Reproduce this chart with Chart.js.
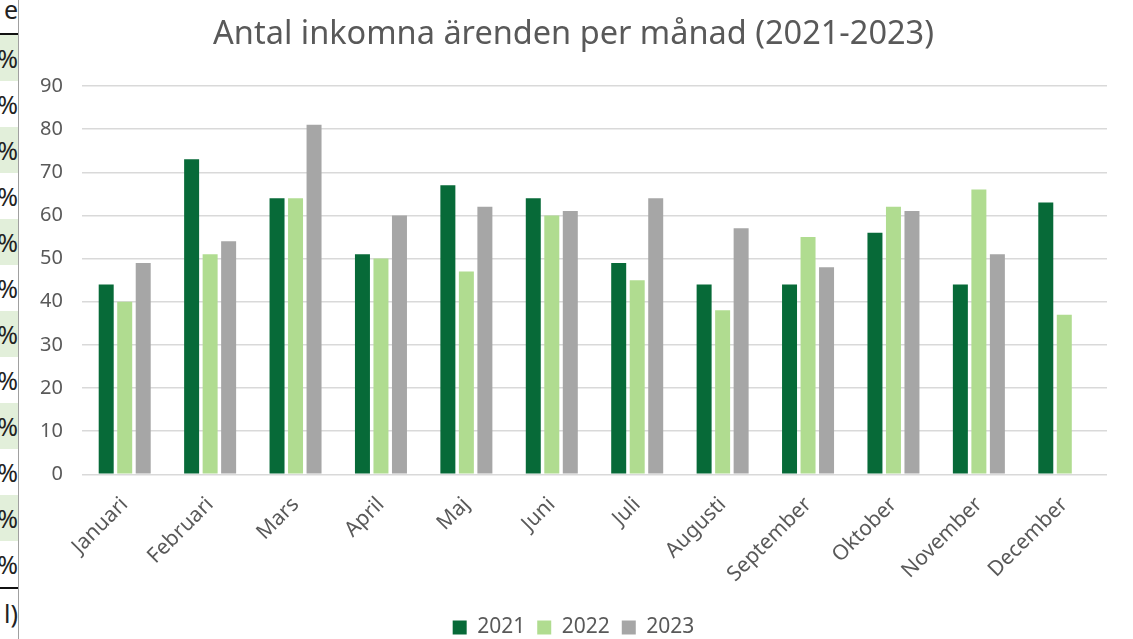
<!DOCTYPE html>
<html lang="sv">
<head>
<meta charset="utf-8">
<title>Antal inkomna ärenden per månad</title>
<script src="https://cdn.jsdelivr.net/npm/chart.js@4.4.1/dist/chart.umd.min.js"></script>
<style>
  body { margin: 0; background: #fff; font-family: "Noto Sans", sans-serif; }
  #remsa {
    position: absolute; left: 0; top: 0; width: 18px; height: 639px;
    border-right: 1px solid #a0a0a0; overflow: hidden; color: #222;
    font-size: 25px;
  }
  #remsa div { position: absolute; left: -40px; width: 58px; text-align: right; line-height: 46px; height: 46px; }
  #remsa .linje { position: absolute; left: 0; width: 18px; height: 2px; background: #111; }
  #ruta { position: absolute; left: 20px; top: 0; width: 1113px; height: 639px; }
</style>
</head>
<body>
<div id="remsa"></div>
<div id="ruta"><canvas id="grafik"></canvas></div>
<script>
// Data
const manader = ['Januari', 'Februari', 'Mars', 'April', 'Maj', 'Juni', 'Juli', 'Augusti', 'September', 'Oktober', 'November', 'December'];
const ar2021 = [44, 73, 64, 51, 67, 64, 49, 44, 44, 56, 44, 63];
const ar2022 = [40, 51, 64, 50, 47, 60, 45, 38, 55, 62, 66, 37];
const ar2023 = [49, 54, 81, 60, 62, 61, 64, 57, 48, 61, 51, null];
const yTicks = [0, 10, 20, 30, 40, 50, 60, 70, 80, 90];

// Avskuren tabell till vänster
const remsa = document.getElementById('remsa');
const rubrik = document.createElement('div');
rubrik.textContent = 'e';
rubrik.style.top = '-14px';
remsa.appendChild(rubrik);
for (let i = 0; i < 12; i++) {
    const cell = document.createElement('div');
    cell.textContent = '%';
    cell.style.top = (35 + i * 46) + 'px';
    if (i % 2 === 0) cell.style.background = '#e2efda';
    remsa.appendChild(cell);
}
const fot = document.createElement('div');
fot.textContent = 'l)';
fot.style.top = '590px';
remsa.appendChild(fot);
[33, 587].forEach(function (y) {
    const l = document.createElement('span');
    l.className = 'linje';
    l.style.top = y + 'px';
    remsa.appendChild(l);
});

const gra = '#595959';
new Chart(document.getElementById('grafik'), {
    type: 'bar',
    data: {
        labels: manader,
        datasets: [
            { label: '2021', data: ar2021, backgroundColor: '#076a38' },
            { label: '2022', data: ar2022, backgroundColor: '#b0dc90' },
            { label: '2023', data: ar2023, backgroundColor: '#a6a6a6' }
        ]
    },
    options: {
        responsive: true,
        maintainAspectRatio: false,
        animation: false,
        layout: { padding: { left: 20, right: 26, top: 4, bottom: -9 } },
        datasets: { bar: { categoryPercentage: 0.65, barPercentage: 0.81 } },
        plugins: {
            title: {
                display: true,
                text: 'Antal inkomna ärenden per månad (2021-2023)',
                color: gra,
                font: { family: 'Noto Sans', size: 32.5, weight: 'normal' },
                padding: { top: 11, bottom: 32 }
            },
            legend: {
                position: 'bottom',
                labels: {
                    color: gra,
                    boxWidth: 14, boxHeight: 14,
                    font: { family: 'Noto Sans', size: 21 },
                    padding: 12
                }
            },
            tooltip: { enabled: false }
        },
        scales: {
            x: {
                grid: { display: false },
                border: { display: false },
                afterFit: function (axis) { axis.height += 8; },
                ticks: {
                    color: gra, maxRotation: 45, minRotation: 45, padding: 10,
                    font: { family: 'Noto Sans', size: 21 }
                }
            },
            y: {
                min: 0, max: 90,
                afterBuildTicks: function (axis) { axis.ticks = yTicks.map(v => ({ value: v })); },
                afterFit: function (axis) { axis.width = 42; },
                grid: { color: '#d9d9d9', lineWidth: 1.5, drawTicks: false },
                border: { display: false },
                ticks: {
                    color: gra, padding: 19,
                    font: { family: 'Noto Sans', size: 20 }
                }
            }
        }
    }
});
</script>
</body>
</html>
